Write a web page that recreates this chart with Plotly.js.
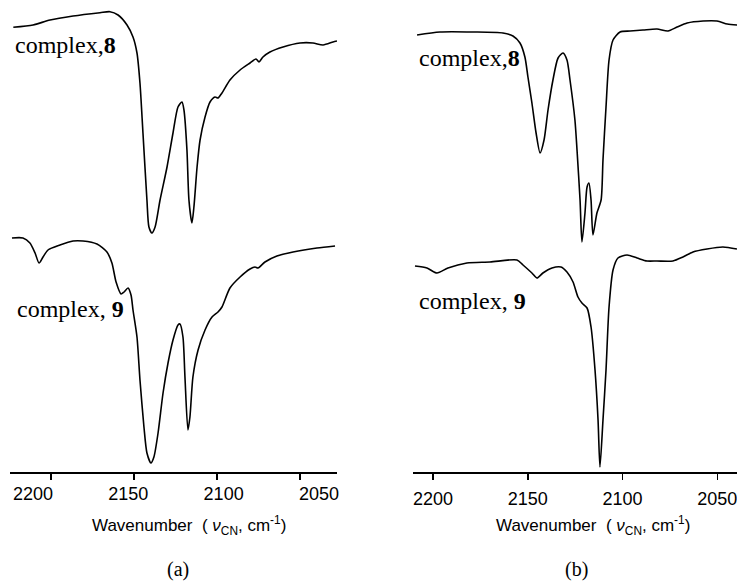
<!DOCTYPE html>
<html>
<head>
<meta charset="utf-8">
<script src="https://cdn.plot.ly/plotly-3.0.1.min.js"></script>
<style>html,body{margin:0;padding:0;background:#fff}</style>
</head>
<body>
<div id="chart" style="width:737px;height:587px"></div>
<script>
// Panel (a) — complex 8 (arbitrary transmittance units)
const aWn8 = [2222.7,2210.8,2200.6,2186.7,2170.5,2164.5,2159.6,2154.2,2150.6,2148.2,2146.4,2144.6,2142.2,2141.0,2139.2,2137.3,2134.3,2130.1,2126.5,2123.5,2121.1,2119.9,2118.1,2116.9,2115.1,2113.9,2112.0,2110.2,2107.2,2104.2,2101.2,2099.4,2097.0,2092.2,2086.1,2080.1,2076.5,2074.7,2072.3,2068.1,2060.2,2050.0,2042.2,2036.1,2030.1,2027.7];
const aT8 = [444.7,447,452,456,459.3,460.3,457,447,435,419,389,339,272,245,239,245,272,305,339,365,370,362,322,272,249,265,305,332,355,370,375,374,379,392,402,409,413,410,415,420,425,429,429,427,430,431];
// Panel (a) — complex 9
const aWn9 = [2223.5,2216.9,2212.7,2209.6,2207.2,2204.8,2201.8,2194.6,2186.7,2180.7,2172.3,2166.3,2163.3,2160.8,2157.8,2156.0,2153.6,2151.8,2150.6,2148.2,2146.4,2144.0,2142.2,2139.8,2138.0,2135.5,2132.5,2129.5,2126.5,2123.5,2122.3,2120.5,2119.3,2117.5,2116.3,2114.5,2111.4,2107.2,2103.0,2099.4,2097.0,2092.2,2086.1,2080.1,2077.1,2075.3,2071.1,2063.9,2054.2,2039.8,2028.9];
const aT9 = [234,234,229,219,209,215,222,227,231,231,228,220,209,190,178,180,184,177,162,135,92,45,19,9,15,39,79,109,132,147,148,135,95,42,55,95,122,142,155,160,165,184,195,203,205,204,210,216,220,224,226];
// Panel (b) — complex 8
const bWn8 = [2208.4,2196.3,2178.9,2163.1,2157.8,2154.1,2151.5,2149.9,2147.8,2145.6,2143.5,2141.4,2139.3,2136.7,2134.0,2131.4,2129.3,2127.7,2125.1,2124.0,2122.4,2121.4,2119.8,2118.7,2117.7,2116.6,2115.6,2113.5,2111.3,2110.3,2108.7,2107.1,2105.0,2101.3,2096.0,2089.2,2081.8,2076.0,2071.2,2065.9,2057.5,2050.1,2044.7,2039.4];
const bT8 = [437,440,440,439,436,429,415,395,369,339,319,332,362,392,414,419,412,392,352,322,272,230,259,285,289,272,237,259,272,312,365,412,432,440,441,442,443,441,445,449,451,451,448,447];
// Panel (b) — complex 9
const bWn9 = [2209.5,2203.2,2197.9,2192.1,2182.1,2169.9,2155.7,2152.5,2147.8,2145.1,2142.0,2137.2,2132.5,2129.3,2126.1,2123.5,2121.4,2118.7,2116.6,2114.5,2112.9,2111.9,2110.3,2108.7,2107.1,2105.0,2102.4,2097.6,2092.3,2087.1,2081.8,2073.4,2068.1,2062.8,2055.4,2047.0,2039.6];
const bT9 = [206,204,199,204,209,210,212,207,199,194,199,204,205,200,190,175,169,164,145,102,52,5,52,102,165,202,214,217,214,211,211,211,215,220,223,225,223];

const tickVals = [2200, 2150, 2100, 2050];
const tickText = ['2200', '2150', '2100', '2050'];
const seriesLabels = ['complex,<b>8</b>', 'complex, <b>9</b>'];
const panelLabels = ['(a)', '(b)'];
const axisTitle = 'Wavenumber  ( <i>ν</i><sub>CN</sub>, cm<sup>-1</sup>)';

const W = 737, H = 587;
const px = x => x / W, py = y => 1 - y / H;
const sans = 'Liberation Sans, Arial, sans-serif';
const serif = 'Liberation Serif, Times New Roman, serif';
const line = {color: '#000', width: 1.6, shape: 'spline', smoothing: 0.7};

const traces = [
  {x: aWn8, y: aT8, xaxis: 'x', yaxis: 'y', mode: 'lines', line: line, hoverinfo: 'skip'},
  {x: aWn9, y: aT9, xaxis: 'x', yaxis: 'y', mode: 'lines', line: line, hoverinfo: 'skip'},
  {x: bWn8, y: bT8, xaxis: 'x2', yaxis: 'y2', mode: 'lines', line: line, hoverinfo: 'skip'},
  {x: bWn9, y: bT9, xaxis: 'x2', yaxis: 'y2', mode: 'lines', line: line, hoverinfo: 'skip'},
  {x: [2200], y: [null], xaxis: 'x3', yaxis: 'y', mode: 'lines', hoverinfo: 'skip'}
];

const yDom = [py(472), 1];
const baseX = {
  showline: true, linecolor: '#000', linewidth: 2, ticks: 'outside', ticklen: 6, tickwidth: 1.5,
  tickcolor: '#000', showgrid: false, zeroline: false, tickvals: tickVals, ticktext: tickText,
  tickfont: {family: sans, size: 18, color: '#000'}, fixedrange: true, ticklabeloverflow: 'allow'
};
const layout = {
  width: W, height: H, margin: {l: 0, r: 0, t: 0, b: 0},
  paper_bgcolor: '#fff', plot_bgcolor: 'rgba(0,0,0,0)', showlegend: false,
  xaxis: Object.assign({}, baseX, {domain: [px(10), px(337)], range: [2224.7, 2027.7], anchor: 'y', showticklabels: false}),
  yaxis: {domain: yDom, range: [0, 472], visible: false, anchor: 'x', fixedrange: true},
  xaxis3: Object.assign({}, baseX, {overlaying: 'x', anchor: 'y', side: 'bottom', range: [2212.1, 2040.5],
    showline: false, ticks: '', ticklabelstandoff: 9}),
  xaxis2: Object.assign({}, baseX, {domain: [px(413), 1], range: [2210.55, 2039.58], anchor: 'y2', ticklabelstandoff: 3}),
  yaxis2: {domain: yDom, range: [0, 472], visible: false, anchor: 'x2', fixedrange: true},
  annotations: [
    {text: seriesLabels[0], x: px(13), y: py(45), xanchor: 'left', yanchor: 'middle'},
    {text: seriesLabels[1], x: px(15), y: py(309), xanchor: 'left', yanchor: 'middle'},
    {text: seriesLabels[0], x: px(417), y: py(58), xanchor: 'left', yanchor: 'middle'},
    {text: seriesLabels[1], x: px(417), y: py(301), xanchor: 'left', yanchor: 'middle'}
  ].map(a => Object.assign(a, {xref: 'paper', yref: 'paper', showarrow: false,
      font: {family: serif, size: 24, color: '#000'}}))
  .concat([
    {text: axisTitle, x: px(189), y: py(525)},
    {text: axisTitle, x: px(593), y: py(525)}
  ].map(a => Object.assign(a, {xref: 'paper', yref: 'paper', showarrow: false, xanchor: 'center', yanchor: 'middle',
      font: {family: sans, size: 17, color: '#000'}})))
  .concat([
    {text: panelLabels[0], x: px(178), y: py(569)},
    {text: panelLabels[1], x: px(576), y: py(569)}
  ].map(a => Object.assign(a, {xref: 'paper', yref: 'paper', showarrow: false, xanchor: 'center', yanchor: 'middle',
      font: {family: serif, size: 20, color: '#000'}})))
};

Plotly.newPlot('chart', traces, layout, {staticPlot: true, displayModeBar: false});
</script>
</body>
</html>
